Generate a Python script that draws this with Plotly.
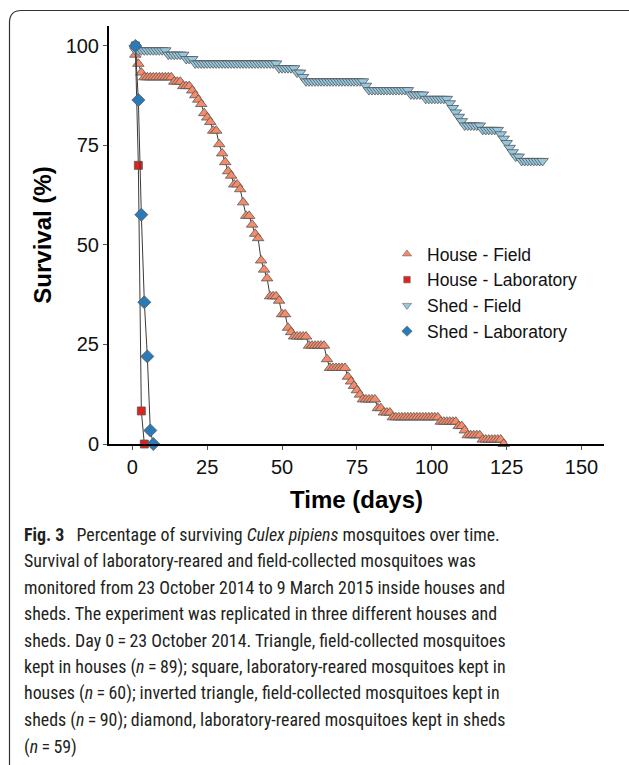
import plotly.graph_objects as go

# ---------------- data ----------------
hf_days = list(range(1, 125))
hf_surv = [97.8, 95.5, 93.3,
           92.1, 92.1, 92.1, 92.1, 92.1, 92.1, 92.1, 92.1, 92.1, 92.1,
           91.0, 91.0, 91.0,
           89.9, 89.9, 89.9,
           88.8, 87.6, 86.5, 85.4, 83.1, 82.0, 80.9, 78.7, 78.7, 75.3,
           73.0, 70.8, 68.5, 67.4, 65.2, 65.2, 64.0, 60.7, 57.3, 57.3,
           55.1, 52.8, 51.7, 46.1, 43.8, 41.6, 37.1, 37.1, 37.1, 36.0,
           32.6, 32.6, 29.2, 28.1,
           27.0, 27.0, 27.0, 27.0, 27.0,
           24.7, 24.7, 24.7, 24.7, 24.7, 24.7,
           21.3,
           19.1, 19.1, 19.1, 19.1, 19.1, 19.1,
           16.9, 15.7, 14.6, 13.5, 12.4,
           11.2, 11.2, 11.2, 11.2, 11.2,
           9.0, 9.0,
           7.9, 7.9, 7.9,
           6.7, 6.7, 6.7, 6.7, 6.7, 6.7, 6.7, 6.7, 6.7, 6.7, 6.7, 6.7, 6.7, 6.7, 6.7, 6.7,
           5.6, 5.6, 5.6, 5.6, 5.6, 5.6,
           4.5, 4.5,
           3.4,
           2.2, 2.2, 2.2, 2.2, 2.2,
           1.1, 1.1, 1.1, 1.1, 1.1, 1.1, 1.1,
           0.0]

hl_days = [1, 2, 3, 4]
hl_surv = [100.0, 70.0, 8.3, 0.0]

sf_days = list(range(1, 138))
sf_surv = [98.9, 98.9, 98.9, 98.9, 98.9, 98.9, 98.9, 98.9, 98.9, 98.9, 98.9,
           97.8, 97.8, 97.8, 97.8, 97.8, 97.8,
           96.7, 96.7, 96.7,
           95.6, 95.6, 95.6, 95.6, 95.6, 95.6, 95.6, 95.6, 95.6, 95.6,
           95.6, 95.6, 95.6, 95.6, 95.6, 95.6, 95.6, 95.6, 95.6, 95.6,
           95.6, 95.6, 95.6, 95.6, 95.6, 95.6, 95.6, 95.6,
           94.4, 94.4, 94.4, 94.4, 94.4, 94.4,
           93.3, 93.3,
           92.2,
           91.1, 91.1, 91.1, 91.1, 91.1, 91.1, 91.1, 91.1, 91.1, 91.1,
           91.1, 91.1, 91.1, 91.1, 91.1, 91.1, 91.1, 91.1, 91.1, 91.1,
           90.0,
           88.9, 88.9, 88.9, 88.9, 88.9, 88.9, 88.9, 88.9, 88.9, 88.9, 88.9, 88.9, 88.9, 88.9,
           87.8, 87.8, 87.8, 87.8, 87.8,
           86.7, 86.7, 86.7, 86.7, 86.7, 86.7, 86.7, 86.7,
           85.6, 84.4, 83.3, 82.2, 81.1,
           80.0, 80.0, 80.0, 80.0, 80.0, 80.0,
           78.9, 78.9, 78.9, 78.9, 78.9, 78.9,
           77.8, 76.7, 75.6, 74.4, 73.3,
           72.2, 72.2,
           71.1, 71.1, 71.1, 71.1, 71.1, 71.1, 71.1, 71.1]

sl_days = [1, 2, 3, 4, 5, 6, 7]
sl_surv = [100.0, 86.4, 57.6, 35.6, 22.0, 3.4, 0.0]

series_names = ["House - Field", "House - Laboratory", "Shed - Field", "Shed - Laboratory"]
x_ticks = [0, 25, 50, 75, 100, 125, 150]
y_ticks = [0, 25, 50, 75, 100]

caption_lines = [
    "<b>Fig. 3</b>\u2002 Percentage of surviving <i>Culex pipiens</i> mosquitoes over time.",
    "Survival of laboratory-reared and field-collected mosquitoes was",
    "monitored from 23 October 2014 to 9 March 2015 inside houses and",
    "sheds. The experiment was replicated in three different houses and",
    "sheds. Day 0\u2009=\u200923 October 2014. Triangle, field-collected mosquitoes",
    "kept in houses (<i>n</i>\u2009=\u200989); square, laboratory-reared mosquitoes kept in",
    "houses (<i>n</i>\u2009=\u200960); inverted triangle, field-collected mosquitoes kept in",
    "sheds (<i>n</i>\u2009=\u200990); diamond, laboratory-reared mosquitoes kept in sheds",
    "(<i>n</i>\u2009=\u200959)",
]

# ---------------- figure ----------------
W, H = 629, 765
L, R, T, B = 109, 25, 26, 321
PW, PH = W - L - R, H - T - B

def px(xp):
    return (xp - L) / PW

def py(yp):
    return (H - B - yp) / PH

FONT = "Liberation Sans, Arial, sans-serif"
line_style = dict(color="#3a3a3a", width=1)
mline = dict(color="#555555", width=0.8)

series = [
    (hf_days, hf_surv, series_names[0], "triangle-up", 10, 8, "#F68B6A"),
    (hl_days, hl_surv, series_names[1], "square", 8, 6.5, "#E0221C"),
    (sf_days, sf_surv, series_names[2], "triangle-down", 10, 8, "#96C8DF"),
    (sl_days, sl_surv, series_names[3], "diamond", 10, 8, "#2B7AB8"),
]

fig = go.Figure()
for xs, ys, nm, sym, sz, lsz, col in series:
    fig.add_trace(go.Scatter(x=xs, y=ys, mode="lines", line=line_style,
                             showlegend=False, hoverinfo="skip", cliponaxis=False))
    fig.add_trace(go.Scatter(x=xs, y=ys, name=nm, mode="markers", cliponaxis=False,
                             showlegend=False,
                             marker=dict(symbol=sym, size=sz, color=col, line=mline)))
# legend entries (small symbols as in the reference key)
for xs, ys, nm, sym, sz, lsz, col in series:
    fig.add_trace(go.Scatter(x=[None], y=[None], name=nm, mode="markers",
                             marker=dict(symbol=sym, size=lsz, color=col,
                                         line=dict(color="#666666", width=0.6))))

fig.update_layout(
    width=W, height=H,
    margin=dict(l=L, r=R, t=T, b=B, pad=0),
    paper_bgcolor="white", plot_bgcolor="white",
    font=dict(family=FONT, color="#111111"),
    showlegend=True,
    legend=dict(x=px(387), y=py(236), xanchor="left", yanchor="top",
                font=dict(size=17.5, family=FONT, color="#111111"),
                bgcolor="rgba(0,0,0,0)", itemsizing="trace",
                tracegroupgap=0),
    xaxis=dict(range=[-7.8, 157.5], tickvals=x_ticks, ticktext=[str(v) for v in x_ticks],
               showline=True, linecolor="black", linewidth=2, ticks="outside",
               ticklen=4, tickcolor="#555555", tickwidth=1, showgrid=False, zeroline=False,
               tickfont=dict(size=20, family=FONT, color="#111111"),
               title=dict(text="<b>Time (days)</b>", font=dict(size=24, family=FONT, color="black"),
                          standoff=14)),
    yaxis=dict(range=[0, 105], tickvals=y_ticks, ticktext=[str(v) for v in y_ticks],
               showline=True, linecolor="black", linewidth=2, ticks="outside",
               ticklen=4, tickcolor="#555555", tickwidth=1, showgrid=False, zeroline=False,
               tickfont=dict(size=20, family=FONT, color="#111111"),
               title=dict(text="<b>Survival (%)</b>", font=dict(size=24, family=FONT, color="black"),
                          standoff=7)),
)

# caption lines
cap_font = dict(size=17.9, family="Liberation Sans Narrow, Arial Narrow, Roboto Condensed, Liberation Sans, sans-serif",
                color="#231f20")
cap_y = [534, 560, 587, 613, 640, 667, 693, 720, 747]
for txt, yy in zip(caption_lines, cap_y):
    fig.add_annotation(text=txt, xref="paper", yref="paper", x=px(22), y=py(yy),
                       xanchor="left", yanchor="middle", showarrow=False, font=cap_font)

# border frame (top-left rounded corner)
r = 12
x0, y0 = 9.5, 10.5
path = (f"M {px(x0)},{py(H + 5)} L {px(x0)},{py(y0 + r)} "
        f"Q {px(x0)},{py(y0)} {px(x0 + r)},{py(y0)} L {px(W + 5)},{py(y0)}")
fig.add_shape(type="path", xref="paper", yref="paper", path=path,
              line=dict(color="#333333", width=1.2))

fig.write_html("out.html")
